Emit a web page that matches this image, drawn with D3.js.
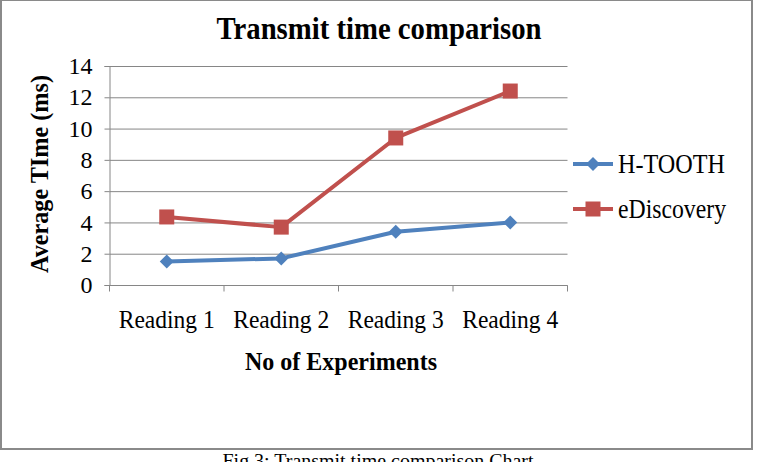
<!DOCTYPE html>
<html><head><meta charset="utf-8">
<script src="https://cdn.jsdelivr.net/npm/d3@7"></script>
<style>body{margin:0;background:#fff}svg{display:block}text{font-family:"Liberation Serif","DejaVu Serif",serif;fill:#000}</style>
</head><body><svg id="c" width="760" height="462"></svg>
<script>
const categories = ["Reading 1","Reading 2","Reading 3","Reading 4"];
const hTooth = [1.5, 1.7, 3.4, 4.0];
const eDiscovery = [4.35, 3.7, 9.4, 12.4];
const yTicks = [0,2,4,6,8,10,12,14];
const seriesNames = ["H-TOOTH","eDiscovery"];
const colors = ["#4F81BD","#C0504D"];

const svg = d3.select("#c");
// border
svg.append("rect").attr("x",1).attr("y",0).attr("width",751).attr("height",449)
  .attr("fill","none").attr("stroke","#8a8a8a").attr("stroke-width",2);

const x0 = 109.5, x1 = 567.5, yTop = 66, yBot = 285;
const x = d3.scaleBand().domain(categories).range([x0,x1]);
const y = d3.scaleLinear().domain([0,14]).range([yBot,yTop]);

// gridlines
svg.append("g").selectAll("line").data(yTicks).join("line")
  .attr("x1",x0).attr("x2",x1).attr("y1",d=>y(d)+0.5).attr("y2",d=>y(d)+0.5)
  .attr("stroke","#868686").attr("stroke-width",1);

// y axis
const ya = svg.append("g").attr("transform",`translate(${x0},0)`)
  .call(d3.axisLeft(y).tickValues(yTicks).tickSize(5).tickPadding(12));
ya.select(".domain").attr("stroke","#868686");
ya.selectAll(".tick line").attr("stroke","#868686");
ya.selectAll("text").style("font-size","24px").attr("font-family","Liberation Serif").attr("fill","#000");

// x axis
const xa = svg.append("g").attr("transform",`translate(0,${yBot+0.5})`)
  .call(d3.axisBottom(x).tickSize(0).tickPadding(0));
xa.select(".domain").remove();
xa.selectAll(".tick line").remove();
xa.append("line").attr("x1",x0).attr("x2",x1).attr("stroke","#868686");
const bounds = [x0, ...categories.map(c=>x(c)+x.bandwidth())];
xa.selectAll(".bt").data(bounds).join("line").attr("x1",d=>d).attr("x2",d=>d).attr("y1",0).attr("y2",6).attr("stroke","#868686");
xa.selectAll(".tick text").attr("y",42.5).attr("dy",null).style("font-size","26px")
  .attr("font-family","Liberation Serif").attr("fill","#000")
  .attr("textLength",96).attr("lengthAdjust","spacingAndGlyphs");

// lines
const series = [hTooth, eDiscovery];
const line = d3.line().x((d,i)=>x(categories[i])+x.bandwidth()/2).y(d=>y(d));
series.forEach((s,k)=>{
  svg.append("path").datum(s).attr("d",line).attr("fill","none")
    .attr("stroke",colors[k]).attr("stroke-width",4).attr("stroke-linejoin","round");
});
function marker(g,k,cx,cy){
  if(k===0){
    g.append("path").attr("d",`M${cx},${cy-7}L${cx+7},${cy}L${cx},${cy+7}L${cx-7},${cy}Z`).attr("fill",colors[0]);
  } else {
    g.append("rect").attr("x",cx-7.5).attr("y",cy-7.5).attr("width",15).attr("height",15).attr("fill",colors[1]);
  }
}
series.forEach((s,k)=>{
  const g = svg.append("g");
  s.forEach((v,i)=>marker(g,k,x(categories[i])+x.bandwidth()/2,y(v)));
});

// legend
const legY = [164, 209];
const legW = [107, 108];
seriesNames.forEach((n,k)=>{
  svg.append("line").attr("x1",573).attr("x2",613).attr("y1",legY[k]).attr("y2",legY[k])
    .attr("stroke",colors[k]).attr("stroke-width",4);
  marker(svg,k,593,legY[k]);
  svg.append("text").attr("x",618).attr("y",legY[k]+9).style("font-size","27px")
    .attr("textLength",legW[k]).attr("lengthAdjust","spacingAndGlyphs").text(n);
});

// title
svg.append("text").attr("x",379).attr("y",39).attr("text-anchor","middle")
  .style("font-size","32px").style("font-weight","bold")
  .attr("textLength",325).attr("lengthAdjust","spacingAndGlyphs").text("Transmit time comparison");
// x title
svg.append("text").attr("x",341).attr("y",370).attr("text-anchor","middle")
  .style("font-size","26px").style("font-weight","bold")
  .attr("textLength",192).attr("lengthAdjust","spacingAndGlyphs").text("No of Experiments");
// y title
svg.append("text").attr("transform","translate(48,174) rotate(-90)").attr("text-anchor","middle")
  .style("font-size","26px").style("font-weight","bold")
  .attr("textLength",198).attr("lengthAdjust","spacingAndGlyphs").text("Average TIme (ms)");
// caption
svg.append("text").attr("x",378).attr("y",467).attr("text-anchor","middle")
  .style("font-size","19px")
  .attr("textLength",311).attr("lengthAdjust","spacingAndGlyphs").text("Fig 3: Transmit time comparison Chart");
</script></body></html>
